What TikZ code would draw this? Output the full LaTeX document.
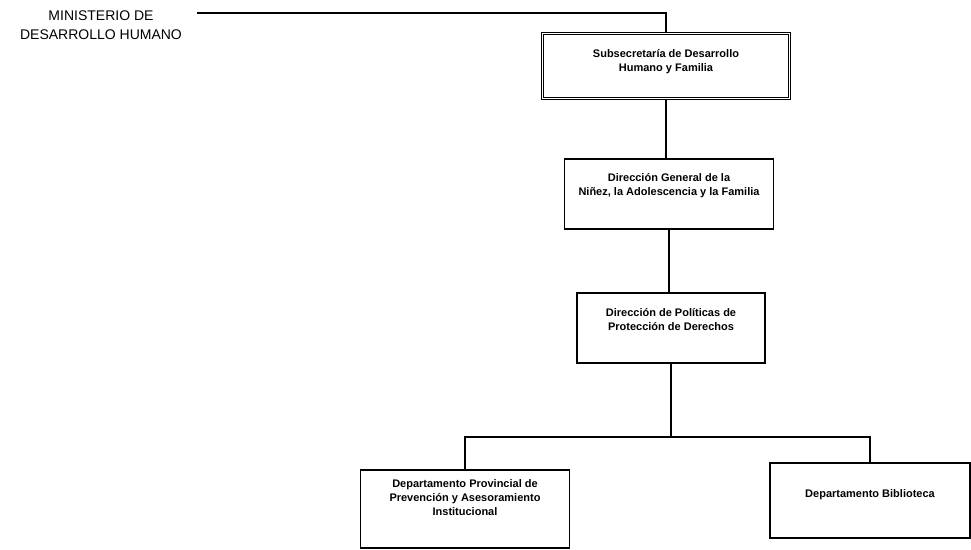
\documentclass[tikz,border=0pt]{standalone}
\usepackage{fontspec}
\setmainfont{Liberation Sans}
\usepackage{tikz}
\usetikzlibrary{positioning,calc}

\tikzset{
    unidad/.style={draw, line width=1.6pt, inner sep=0pt},
    texto/.style={align=center, inner sep=0pt, font=\fontsize{11}{14}\selectfont\bfseries},
    enlace/.style={line width=1.8pt}
}

\begin{document}
\begin{tikzpicture}[x=1pt, y=-1pt]
    \useasboundingbox (0,0) rectangle (971,549);

    % ministerio
    \node[align=center, inner sep=0pt, font=\fontsize{14}{18.5}\selectfont] (min) at (101,25)
        {MINISTERIO DE\\DESARROLLO HUMANO};
    \coordinate (minfin) at (197,13);

    % cajas
    \node[unidad, double, double distance=1.1pt, line width=1pt, minimum width=247, minimum height=65,
        label={[texto, below=16pt]north:{Subsecretaría de Desarrollo\\Humano y Familia}}] (sub) at (666,66) {};
    \node[unidad, minimum width=209, minimum height=70,
        label={[texto, below=15pt]north:{Dirección General de la\\Niñez, la Adolescencia y la Familia}}] (dgral) at (669,194) {};
    \node[unidad, minimum width=188, minimum height=70,
        label={[texto, below=16pt]north:{Dirección de Políticas de\\Protección de Derechos}}] (dpol) at (671,328) {};
    \node[unidad, minimum width=209, minimum height=78,
        label={[texto, below=10pt]north:{Departamento Provincial de\\Prevención y Asesoramiento\\Institucional}}] (dprov) at (465,509) {};
    \node[unidad, minimum width=200, minimum height=75,
        label={[texto, below=27pt]north:{Departamento Biblioteca}}] (dbib) at (870,500.5) {};

    % lineas
    \draw[enlace] (minfin) -| (sub.north);
    \draw[enlace] (sub.south) -- (dgral.north -| sub.south);
    \draw[enlace] (dgral.south) -- (dpol.north -| dgral.south);
    \draw[enlace] (dpol.south) -- ++(0,73) coordinate (bus);
    \draw[enlace] (dprov.north) |- (bus) -| (dbib.north);
\end{tikzpicture}
\end{document}
